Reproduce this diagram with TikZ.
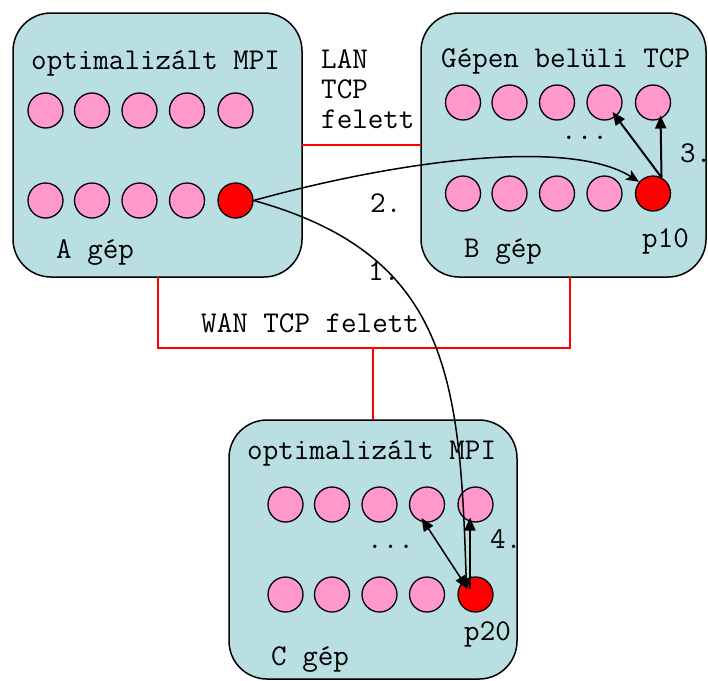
\documentclass[tikz,border=0pt]{standalone}
\usepackage{fontspec}
\usetikzlibrary{arrows.meta,calc}
\definecolor{boxfill}{RGB}{186,223,227}
\definecolor{proc}{RGB}{255,153,204}
\definecolor{netred}{RGB}{255,0,0}
\begin{document}
\begin{tikzpicture}[x=1pt,y=-1pt,
  machine/.style={draw=black,line width=1.5pt,fill=boxfill,rounded corners=38pt},
  procnode/.style={circle,draw=black,line width=1.3pt,fill=proc,minimum size=35pt,inner sep=0pt},
  active/.style={procnode,fill=netred},
  lbl/.style={font=\ttfamily\fontsize{30.2}{34}\selectfont,anchor=base west,inner sep=0pt,text=black},
  net/.style={draw=netred,line width=2.5pt},
  msg/.style={draw=black,line width=1.5pt},
  tip/.style={-{Triangle[length=13pt,width=11pt]}},
  stip/.style={-{Stealth[length=13pt,width=11pt,inset=3pt]}}
]
\useasboundingbox (0,0) rectangle (708,680);

% machines
\draw[machine] (13,13) rectangle (302,277);
\draw[machine] (421,13) rectangle (706,277);
\draw[machine] (229,420) rectangle (517,679);

% network links
\draw[net] (302,145) -- (421,145);
\draw[net] (158,277) -- (158,348) -- (570,348) -- (570,277);
\draw[net] (373,348) -- (373,420);

% processes
\foreach \i/\x in {1/45.5,2/92,3/139.5,4/187,5/235.5}{
  \node[procnode] (a\i) at (\x,110.5) {};
  \node[procnode] (b\i) at (\x+417.5,102.5) {};
  \node[procnode] (c\i) at (\x+240,504.5) {};
}
\foreach \i/\x in {6/45.5,7/92,8/139.5,9/187}{
  \node[procnode] (a\i) at (\x,200.5) {};
  \node[procnode] (b\i) at (\x+417.5,193.5) {};
  \node[procnode] (c\i) at (\x+240,594.5) {};
}
\node[active] (a10) at (235.5,200.5) {};
\node[active] (b10) at (653,193.5) {};
\node[active] (c10) at (475.5,594.5) {};

% labels
\node[lbl] (ta) at (31,69) {optimalizált MPI};
\node[lbl] (na) at (56,258) {A gép};
\node[lbl] (tb) at (441,67) {Gépen belüli TCP};
\node[lbl] (db) at (561,139) {...};
\node[lbl] (s3) at (680,162) {3.};
\node[lbl] (pb) at (642,247) {p10};
\node[lbl] (nb) at (464,257) {B gép};
\node[lbl] (tc) at (247,459) {optimalizált MPI};
\node[lbl] (dc) at (367,548) {...};
\node[lbl] (s4) at (490,548) {4.};
\node[lbl] (pc) at (464,640) {p20};
\node[lbl] (nc) at (271,665) {C gép};
\node[lbl] (l1) at (321,68) {LAN};
\node[lbl] (l2) at (321,98) {TCP};
\node[lbl] (l3) at (321,128) {felett};
\node[lbl] (wan) at (201,332) {WAN TCP felett};
\node[lbl] (s2) at (370,212) {2.};
\node[lbl] (s1) at (368,280) {1.};

% messages between machines
\draw[msg,stip] (a10.east) .. controls (400,160) and (570,138) .. (b10.140);
\draw[msg,stip] (a10.east) .. controls (450,255) and (460,380) .. ($(c10.center)+(-9,-5)$);

% forwarding inside B
\draw[msg,line width=2pt,tip] (b10.62) -- ($(b5.center)+(7.5,13)$);
\draw[msg,line width=2pt,tip] (b10.62) -- ($(b4.center)+(8,9.5)$);

% forwarding inside C
\draw[msg,tip] ($(c10.center)+(-5.5,-6)$) -- ($(c5.center)+(-5.5,13)$);
\draw[msg,{Triangle[length=13pt,width=11pt]}-{Triangle[length=13pt,width=11pt]}] ($(c4.center)+(-5.5,13.5)$) -- ($(c10.center)+(-8,-6)$);
\end{tikzpicture}
\end{document}
